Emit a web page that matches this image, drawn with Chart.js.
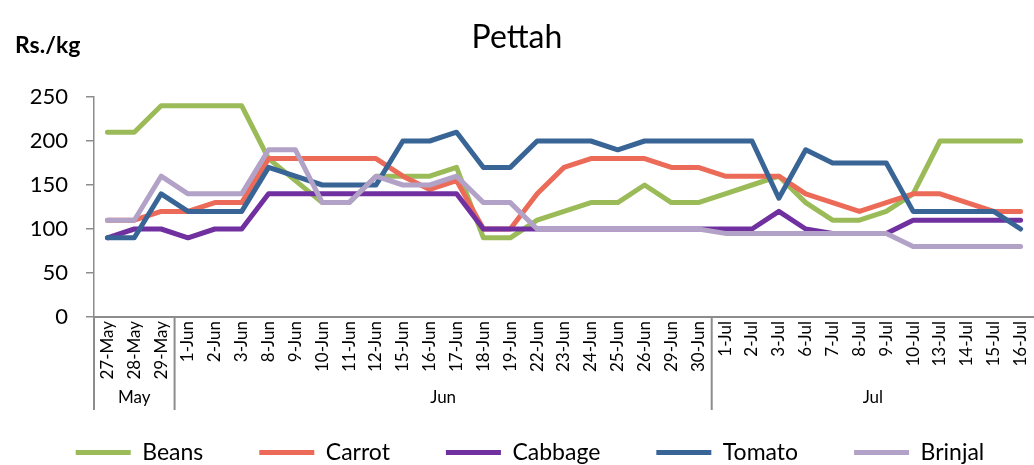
<!DOCTYPE html>
<html>
<head>
<meta charset="utf-8">
<script src="https://cdn.jsdelivr.net/npm/chart.js@4.4.0/dist/chart.umd.min.js"></script>
<style>
    html, body { margin: 0; padding: 0; background: #fff; }
</style>
</head>
<body>
<canvas id="pettahChart" width="1034" height="465"></canvas>
<script>
// Даты наблюдений (месяц берётся из подписи)
const dates = ['27-May', '28-May', '29-May', '1-Jun', '2-Jun', '3-Jun', '8-Jun', '9-Jun', '10-Jun', '11-Jun',
    '12-Jun', '15-Jun', '16-Jun', '17-Jun', '18-Jun', '19-Jun', '22-Jun', '23-Jun', '24-Jun', '25-Jun',
    '26-Jun', '29-Jun', '30-Jun', '1-Jul', '2-Jul', '3-Jul', '6-Jul', '7-Jul', '8-Jul', '9-Jul',
    '10-Jul', '13-Jul', '14-Jul', '15-Jul', '16-Jul'];

// Цены, Rs./kg
const beans = [210, 210, 240, 240, 240, 240, 180, 155, 130, 130, 160, 160, 160, 170, 90, 90, 110, 120, 130, 130,
    150, 130, 130, 140, 150, 160, 130, 110, 110, 120, 140, 200, 200, 200, 200];
const carrot = [110, 110, 120, 120, 130, 130, 180, 180, 180, 180, 180, 160, 145, 155, 100, 100, 140, 170, 180, 180,
    180, 170, 170, 160, 160, 160, 140, 130, 120, 130, 140, 140, 130, 120, 120];
const cabbage = [90, 100, 100, 90, 100, 100, 140, 140, 140, 140, 140, 140, 140, 140, 100, 100, 100, 100, 100, 100,
    100, 100, 100, 100, 100, 120, 100, 95, 95, 95, 110, 110, 110, 110, 110];
const tomato = [90, 90, 140, 120, 120, 120, 170, 160, 150, 150, 150, 200, 200, 210, 170, 170, 200, 200, 200, 190,
    200, 200, 200, 200, 200, 135, 190, 175, 175, 175, 120, 120, 120, 120, 100];
const brinjal = [110, 110, 160, 140, 140, 140, 190, 190, 130, 130, 160, 150, 150, 160, 130, 130, 100, 100, 100, 100,
    100, 100, 100, 95, 95, 95, 95, 95, 95, 95, 80, 80, 80, 80, 80];

const seriesNames = ['Beans', 'Carrot', 'Cabbage', 'Tomato', 'Brinjal'];
const yTicks = [0, 50, 100, 150, 200, 250];
const chartTitle = 'Pettah';
const unitLabel = 'Rs./kg';

const colors = ['#9BBB59', '#EB6B58', '#7030A0', '#386496', '#B3A2C7'];
const axisColor = '#8C8C8C';

Chart.defaults.font.family = 'Lato';
Chart.defaults.color = '#000';

// Подписи месяцев и разделители под осью X
const monthGroupsPlugin = {
    id: 'monthGroups',
    afterLayout(chart) {
        // сдвигаем легенду чуть вправо, как в оригинале
        chart.legend.left += 13;
        chart.legend.right += 13;
    },
    afterDraw(chart) {
        const { ctx, chartArea } = chart;
        const x = chart.scales.x;
        const half = (x.getPixelForValue(1) - x.getPixelForValue(0)) / 2;
        const bottom = chartArea.bottom + 93;

        // собираем группы подряд идущих дат одного месяца
        const groups = [];
        dates.forEach((d, i) => {
            const month = d.split('-')[1];
            const last = groups[groups.length - 1];
            if (last && last.month === month) {
                last.end = i;
            } else {
                groups.push({ month, start: i, end: i });
            }
        });

        ctx.save();
        ctx.strokeStyle = axisColor;
        ctx.lineWidth = 2;
        ctx.fillStyle = '#000';
        ctx.font = '17px Lato';
        ctx.textAlign = 'center';
        ctx.textBaseline = 'middle';
        groups.forEach(g => {
            const left = x.getPixelForValue(g.start) - half;
            const right = x.getPixelForValue(g.end) + half;
            ctx.beginPath();
            ctx.moveTo(left, chartArea.bottom);
            ctx.lineTo(left, bottom);
            ctx.stroke();
            ctx.fillText(g.month, (left + right) / 2, chartArea.bottom + 81);
        });

        // единицы измерения над осью Y
        ctx.font = 'bold 23px Lato';
        ctx.textAlign = 'left';
        ctx.textBaseline = 'alphabetic';
        ctx.fillText(unitLabel, 15, 53);
        ctx.restore();
    }
};

const seriesData = [beans, carrot, cabbage, tomato, brinjal];

const ctx = document.getElementById('pettahChart').getContext('2d');
const chart = new Chart(ctx, {
    type: 'line',
    data: {
        labels: dates,
        datasets: seriesNames.map((name, i) => ({
            label: name,
            data: seriesData[i],
            borderColor: colors[i],
            backgroundColor: colors[i],
            borderWidth: 5,
            borderCapStyle: 'round',
            borderJoinStyle: 'round',
            pointRadius: 0,
            tension: 0,
            fill: false,
            order: seriesNames.length - i
        }))
    },
    options: {
        responsive: false,
        devicePixelRatio: 1,
        animation: false,
        layout: { padding: 0 },
        plugins: {
            title: {
                display: true,
                text: chartTitle,
                font: { size: 32, weight: 'normal' },
                color: '#000',
                padding: { top: 18, bottom: 40.6 }
            },
            legend: {
                position: 'bottom',
                maxHeight: 80,
                labels: {
                    usePointStyle: true,
                    pointStyle: 'line',
                    pointStyleWidth: 55,
                    padding: 56,
                    font: { size: 23 },
                    color: '#000',
                    sort: (a, b) => a.datasetIndex - b.datasetIndex
                }
            },
            tooltip: { enabled: false }
        },
        scales: {
            x: {
                offset: true,
                grid: { display: false, drawTicks: false },
                border: { display: true, color: axisColor, width: 2 },
                ticks: {
                    autoSkip: false,
                    minRotation: 90,
                    maxRotation: 90,
                    padding: 4,
                    font: { size: 17 },
                    color: '#000'
                },
                afterFit(scale) {
                    scale.height = 68;
                    scale.paddingLeft = 0;
                    scale.paddingRight = 0;
                }
            },
            y: {
                min: yTicks[0],
                max: yTicks[yTicks.length - 1],
                afterBuildTicks(scale) {
                    scale.ticks = yTicks.map(v => ({ value: v }));
                },
                grid: {
                    drawOnChartArea: false,
                    drawTicks: true,
                    tickLength: 8,
                    color: axisColor,
                    lineWidth: 1.5
                },
                border: { color: axisColor, width: 1.5 },
                ticks: {
                    padding: 18,
                    font: { size: 22 },
                    color: '#000'
                },
                afterFit(scale) {
                    scale.width = 94;
                }
            }
        }
    },
    plugins: [monthGroupsPlugin]
});
</script>
</body>
</html>
